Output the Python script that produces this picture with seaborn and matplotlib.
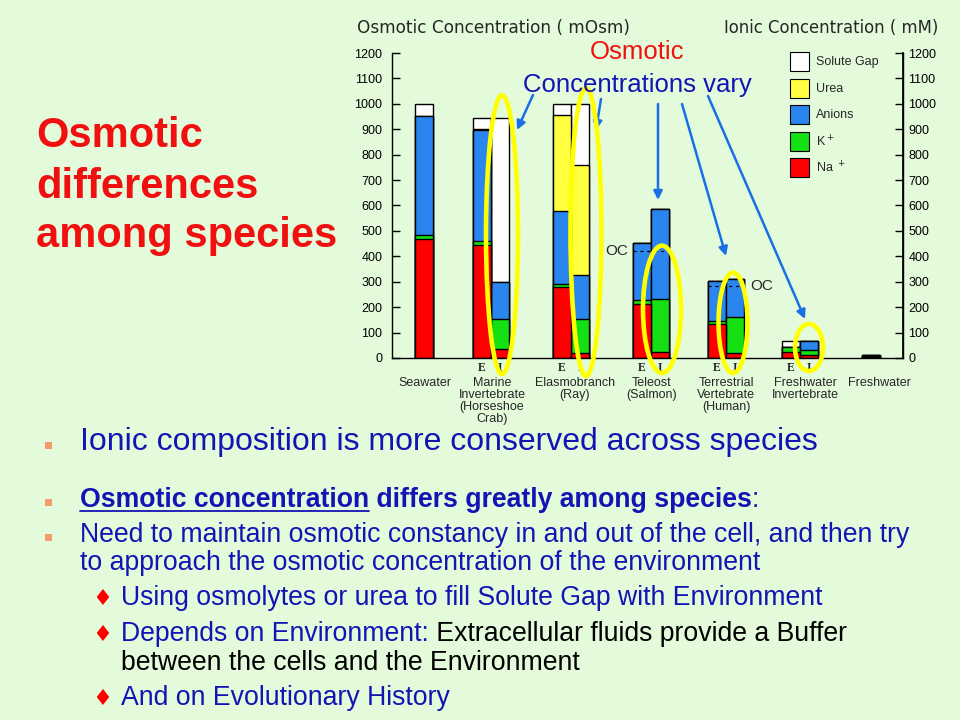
import matplotlib
matplotlib.use("Agg")
import matplotlib.pyplot as plt
from matplotlib.patches import Ellipse, Rectangle
from matplotlib.lines import Line2D
import seaborn as sns
import numpy as np
import pandas as pd

# ---------------- data ----------------
group_labels = ["Seawater", "Marine\nInvertebrate\n(Horseshoe\nCrab)", "Elasmobranch\n(Ray)",
                "Teleost\n(Salmon)", "Terrestrial\nVertebrate\n(Human)",
                "Freshwater\nInvertebrate", "Freshwater"]
bar_group = [0, 1, 1, 2, 2, 3, 3, 4, 4, 5, 5, 6]
bar_side = ["", "E", "I", "E", "I", "E", "I", "E", "I", "E", "I", ""]

na     = [470, 445,  37, 280,  20, 212,  22, 134,  20, 23, 13, 4]
k      = [ 12,  15, 116,  11, 133,  16, 211,  11, 141, 19, 20, 3]
anions = [472, 437, 145, 287, 175, 224, 352, 158, 148,  0, 34, 5]
urea   = [  0,   4,   0, 377, 430,   0,   0,   0,   0,  0,  0, 0]
gap    = [ 46,  42, 645,  45, 242,   0,   0,   0,   0, 25,  0, 0]

layer_names = ["Na $^+$", "K$^+$", "Anions", "Urea", "Solute Gap"]   # bottom -> top
oc_group = [3, 4]
oc_value = [420, 283]

# ---------------- layout / style ----------------
BG = "#E3FBDB"
RED = "#FF0000"
BLUE_TXT = "#1414B4"
layer_colors = ["#FF0000", "#14E014", "#2A86EE", "#FFFF40", "#FFFFFF"]

# x axis runs in slide pixels so the uneven group spacing of the slide is kept
group_x = [424, 491, 571, 651, 726, 800, 871]
label_x = [425, 492, 575, 652, 726, 805, 879]
half = 9

sns.set_theme(style="white")
plt.rcParams["font.family"] = ["Liberation Sans", "DejaVu Sans"]
plt.rcParams["axes.edgecolor"] = "black"

W, H = 960, 720
fig = plt.figure(figsize=(9.6, 7.2), dpi=100, facecolor=BG)


def fx(x):
    return x / W


def fy(y):
    return 1 - y / H


ax = fig.add_axes([fx(392), fy(358), (903 - 392) / W, (358 - 53) / H])
ax.set_facecolor("none")

offset = {"": 0, "E": -half, "I": half}
xpos = [group_x[g] + offset[s] for g, s in zip(bar_group, bar_side)]
cum = np.cumsum(np.array([na, k, anions, urea, gap]), axis=0)

# tallest cumulative layer first, smaller ones drawn over it
for i in reversed(range(len(layer_names))):
    df = pd.DataFrame({"x": xpos, "y": cum[i]})
    sns.barplot(data=df, x="x", y="y", native_scale=True, orient="x", width=1.0,
                color=layer_colors[i], saturation=1, edgecolor="black",
                linewidth=1.0, errorbar=None, ax=ax)

ax.set_xlim(392, 903)
ax.set_ylim(0, 1200)
ax.set_xlabel("")
ax.set_ylabel("")
ax.set_yticks(range(0, 1201, 100))
ax.tick_params(axis="y", direction="in", length=6, width=1, left=True,
               labelsize=9, pad=7, colors="black")
ax.set_xticks(label_x)
ax.set_xticklabels(group_labels, fontsize=9, linespacing=1.0)
ax.tick_params(axis="x", length=0, pad=14)
ax.spines["top"].set_visible(False)
for s in ["left", "bottom", "right"]:
    ax.spines[s].set_color("black")
    ax.spines[s].set_linewidth(1.0)

ax2 = ax.twinx()
ax2.set_ylim(0, 1200)
ax2.set_yticks(range(0, 1201, 100))
ax2.tick_params(axis="y", direction="in", length=6, width=1, right=True,
                labelsize=9, pad=4, colors="black")
ax2.grid(False)
for s in ["left", "top", "bottom"]:
    ax2.spines[s].set_visible(False)
ax2.spines["right"].set_color("black")

for x, s in zip(xpos, bar_side):
    if s:
        ax.text(x, -40, s, ha="center", va="center", fontsize=8.5,
                fontweight="bold", family="Liberation Serif", clip_on=False)

# osmotic concentration markers
for g, v, side in zip(oc_group, oc_value, ["left", "right"]):
    c = group_x[g]
    ax.plot([c - 18, c + 17], [v, v], color="black", lw=0.9, ls=(0, (2.5, 3)))
    if side == "left":
        ax.text(c - 23, v, "OC", ha="right", va="center", fontsize=11)
    else:
        ax.text(c + 24, v, "OC", ha="left", va="center", fontsize=11)

# yellow ellipses around the intracellular bars
ell = [(1, 2, -63, 1034, 32), (2, 6, -71, 1062, 31), (3, 2, -59, 442, 38),
       (4, -2, -59, 336, 29), (5, 0, -51, 134, 28)]
for g, dx, lo, hi, w in ell:
    e = Ellipse((group_x[g] + half + dx, (lo + hi) / 2), w, hi - lo, fill=False,
                edgecolor="#FFFF00", lw=3.3, clip_on=False, zorder=5)
    ax.add_patch(e)

# legend
box_tops = [52, 79, 105, 132, 158]
for name, col, top in zip(layer_names[::-1], layer_colors[::-1], box_tops):
    fig.add_artist(Rectangle((fx(790), fy(top + 19)), 19 / W, 19 / H,
                             transform=fig.transFigure, facecolor=col,
                             edgecolor="black", lw=0.8))
    fig.text(fx(816), fy(top + 10), name, fontsize=9, va="center", ha="left")

# headers
fig.text(fx(357), fy(33), "Osmotic Concentration ( mOsm)", fontsize=12.2,
         family="DejaVu Sans", va="baseline")
fig.text(fx(724), fy(33), "Ionic Concentration ( mM)", fontsize=11.9,
         family="DejaVu Sans", va="baseline")

fig.text(fx(637), fy(59), "Osmotic", fontsize=18.5, color="#F01010",
         ha="center", va="baseline")
fig.text(fx(637), fy(92), "Concentrations vary", fontsize=18.5, color=BLUE_TXT,
         ha="center", va="baseline")

arrows = [((533, 95), (517, 130)), ((601, 99), (596, 130)), ((658, 104), (658, 200)),
          ((682, 104), (726, 256)), ((708, 96), (805, 319))]
for (x0, y0), (x1, y1) in arrows:
    ax.annotate("", xy=(x1, H - y1), xytext=(x0, H - y0), xycoords="figure pixels",
                textcoords="figure pixels", annotation_clip=False,
                arrowprops=dict(arrowstyle="-|>", color="#1A6FE6", lw=1.8,
                                mutation_scale=13, shrinkA=0, shrinkB=0))

# left title
for line, base in zip(["Osmotic", "differences", "among species"], [147, 198, 247]):
    fig.text(fx(36), fy(base), line, fontsize=30, fontweight="bold", color="#F01010",
             va="baseline")

# bullet text
renderer = fig.canvas.get_renderer()


def runs(x, y, parts, size):
    for text, color, weight, underline in parts:
        t = fig.text(fx(x), fy(y), text, fontsize=size, color=color,
                     fontweight=weight, va="baseline", ha="left")
        w = t.get_window_extent(renderer=renderer).width
        if underline:
            fig.add_artist(Line2D([fx(x), fx(x + w)], [fy(y + 4)] * 2,
                                  color=color, lw=1.3))
        x += w


for top in [442, 499, 534]:
    fig.add_artist(Rectangle((fx(45), fy(top + 7)), 7 / W, 7 / H,
                             transform=fig.transFigure, facecolor="#F79A6B",
                             edgecolor="none"))
for base in [605, 641, 705]:
    fig.text(fx(92), fy(base - 6), "\u2666", fontsize=16, color=RED,
             family="DejaVu Sans", va="center", ha="left")

body = 19.2
runs(80, 450, [("Ionic composition is more conserved across species", BLUE_TXT, "normal", False)], 23)
runs(80, 507, [("Osmotic concentration", BLUE_TXT, "bold", True),
               (" differs greatly among species", BLUE_TXT, "bold", False),
               (":", BLUE_TXT, "normal", False)], body)
runs(80, 542, [("Need to maintain osmotic constancy in and out of the cell, and then try",
                BLUE_TXT, "normal", False)], body)
runs(80, 570, [("to approach the osmotic concentration of the environment",
                BLUE_TXT, "normal", False)], body)
runs(121, 605, [("Using osmolytes or urea to fill Solute Gap with Environment",
                 BLUE_TXT, "normal", False)], body)
runs(121, 641, [("Depends on Environment:", BLUE_TXT, "normal", False),
                (" Extracellular fluids provide a Buffer", "black", "normal", False)], body)
runs(121, 670, [("between the cells and the Environment", "black", "normal", False)], body)
runs(121, 705, [("And on Evolutionary History", BLUE_TXT, "normal", False)], body)

fig.savefig("out.png", dpi=100, facecolor=BG)
